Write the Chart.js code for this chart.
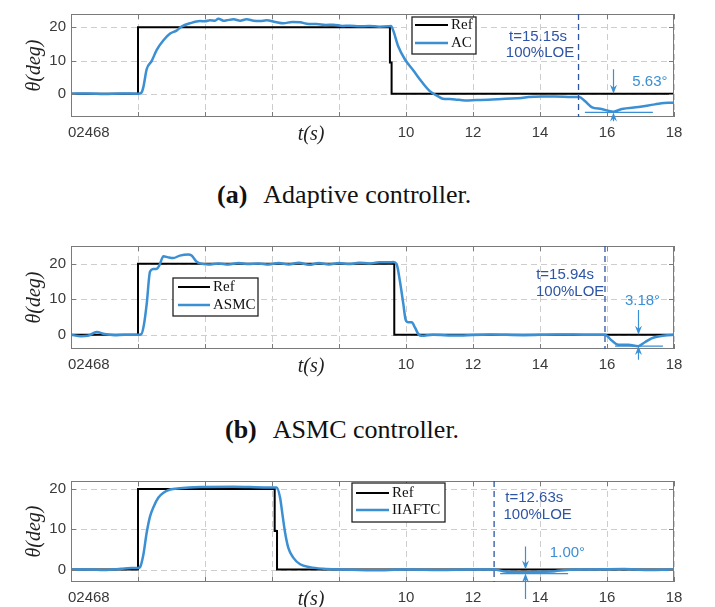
<!DOCTYPE html>
<html><head><meta charset="utf-8">
<script src="https://cdn.jsdelivr.net/npm/chart.js@4.4.1/dist/chart.umd.min.js"></script>
<style>
html,body{margin:0;padding:0;background:#fff;}
#wrap{position:relative;width:715px;height:607px;overflow:hidden;background:#fff;}
canvas{position:absolute;left:0;}
.cap{position:absolute;font-family:'Liberation Serif','Times New Roman',serif;font-size:26px;color:#111;white-space:nowrap;line-height:30px;}
.cap b{margin-right:16px;}
</style></head><body>
<div id="wrap">
<canvas id="ca" width="715" height="150" style="top:0"></canvas>
<div class="cap" style="left:217px;top:180px"><b>(a)</b>Adaptive controller.</div>
<canvas id="cb" width="715" height="150" style="top:232px"></canvas>
<div class="cap" style="left:225px;top:415px"><b>(b)</b>ASMC controller.</div>
<canvas id="cc" width="715" height="140" style="top:467px"></canvas>
</div>
<script>
// ---------------- data ----------------
const xTicks = [0,2,4,6,8,10,12,14,16,18];
const yTicks = [0,10,20];
const crammedLabel = '02468';

// (a) Adaptive controller
const tRefA = [0,2,2,9.52,9.52,9.57,9.57,18];
const refA  = [0,0,20,20,9.4,9.4,0,0];
const tA = [0,0.5,1,1.5,2.0,2.1,2.16,2.26,2.41,2.56,2.76,2.96,3.15,3.3,3.55,3.85,4.0,4.15,4.3,4.4,4.55,4.65,4.85,5.05,5.24,5.45,5.64,5.84,6.1,6.34,6.6,6.84,7.1,7.33,7.6,7.83,8.1,8.33,8.6,8.9,9.2,9.47,9.55,9.62,9.77,9.97,10.22,10.47,10.72,10.96,11.1,11.3,11.46,11.76,12.1,12.46,12.96,13.45,13.65,14.05,14.45,14.95,15.17,15.34,15.54,15.84,16.19,16.44,16.94,17.43,17.83,18];
const acA = [0,0.1,-0.1,0.1,0,0.3,2.0,7.4,9.9,13.2,16.1,18.1,19.0,20.2,21.2,21.9,21.8,22.1,22.0,22.6,22.0,22.1,22.4,22.0,22.4,22.0,21.9,22.1,21.6,21.2,21.6,21.5,21.0,21.0,20.7,20.8,20.4,20.5,20.3,20.4,20.2,20.3,20.4,19.0,14.2,10.3,7.0,3.6,0.7,-0.8,-1.5,-1.6,-1.7,-2.0,-1.9,-1.8,-1.5,-1.3,-1.0,-0.8,-0.8,-1.0,-1.0,-2.2,-4.0,-4.6,-5.4,-4.6,-4.0,-3.2,-2.7,-2.7];
const faultA = 15.15;
const devA = 5.63;

// (b) ASMC controller
const tRefB = [0,2,2,9.65,9.65,18];
const refB  = [0,0,20,20,0,0];
const tB = [0,0.3,0.5,0.77,1.0,1.3,1.6,2.0,2.1,2.18,2.26,2.36,2.46,2.56,2.64,2.76,2.9,3.05,3.25,3.5,3.6,3.75,3.85,4.1,4.4,4.7,5.0,5.3,5.6,5.9,6.2,6.5,6.8,7.1,7.4,7.7,8.0,8.3,8.6,8.9,9.2,9.5,9.62,9.72,9.82,9.92,9.99,10.07,10.17,10.27,10.37,10.47,10.8,11.5,12.5,13.5,14.5,15.5,15.94,16.14,16.34,16.64,16.93,17.13,17.33,17.53,17.8,18];
const asmcB = [0,-0.4,-0.3,0.8,0.2,-0.1,0,0,0.2,3.0,8.7,17.8,18.5,18.6,19.6,22.1,21.8,21.6,22.3,22.6,22.3,20.6,20.1,19.8,20.1,19.8,20.2,19.9,20.1,19.8,20.2,19.8,20.3,19.7,20.2,19.8,20.2,19.9,20.3,20.1,20.4,20.4,20.5,19.9,15.0,8.7,4.2,3.5,3.5,2.0,0.2,-0.3,0,-0.2,0.1,-0.1,0.1,0,0,-1.6,-2.8,-2.8,-3.2,-2.1,-1.0,-0.5,-0.1,0];
const faultB = 15.94;
const devB = 3.18;

// (c) IIAFTC
const tRefC = [0,2,2,6.08,6.08,6.15,6.15,18];
const refC  = [0,0,20,20,9.6,9.6,0,0];
const tC = [0,0.5,1.0,1.5,1.8,2.0,2.06,2.16,2.26,2.36,2.46,2.61,2.76,2.96,3.25,3.85,4.84,5.84,6.14,6.24,6.32,6.39,6.49,6.64,6.84,7.13,7.53,8.03,9,10,11,12,12.63,12.9,13.2,13.5,13.9,14.45,14.8,15.5,16.5,17.2,18];
const iiC = [0,0,-0.1,0.2,0.4,0.4,0.6,3.7,9.2,13.2,15.5,17.9,19.1,19.9,20.2,20.5,20.6,20.4,20.4,17.9,13.2,9.2,5.3,2.9,1.3,0.6,0.2,0,-0.2,0,-0.1,0,0,-0.4,-0.6,-0.7,-0.6,-0.4,-0.1,0,0.1,-0.1,0];
const faultC = 12.63;
const devC = 1.00;

// ---------------- styles ----------------
const BLUE = '#3b8fd3';
const DARKBLUE = '#2e54a6';
const SANS = '"Liberation Sans", Arial, Helvetica, sans-serif';
const SERIF = '"Liberation Serif", "Times New Roman", serif';
const TICKCOL = '#3a3a3a';

function pts(t, v){ return t.map((x,i)=>({x:x, y:v[i]})); }

function arrowHead(ctx, x, tipY, dir){ // dir = +1 pointing down, -1 pointing up
  ctx.beginPath();
  ctx.moveTo(x, tipY);
  ctx.lineTo(x-3.5, tipY - dir*9);
  ctx.lineTo(x, tipY - dir*6);
  ctx.lineTo(x+3.5, tipY - dir*9);
  ctx.closePath();
  ctx.fill();
}

const deco = {
  id: 'deco',
  beforeDatasetsDraw(chart){
    const {ctx, chartArea:a, scales:{x, y}} = chart;
    ctx.save();
    ctx.strokeStyle = '#cdcdcd'; ctx.lineWidth = 1; ctx.setLineDash([6,4]);
    ctx.beginPath();
    x.ticks.forEach(tk=>{
      const px = Math.round(x.getPixelForValue(tk.value))+0.5;
      ctx.moveTo(px, a.top); ctx.lineTo(px, a.bottom);
    });
    y.ticks.forEach(tk=>{
      const py = Math.round(y.getPixelForValue(tk.value))+0.5;
      ctx.moveTo(a.left, py); ctx.lineTo(a.right, py);
    });
    ctx.stroke();
    ctx.restore();
  },
  afterDraw(chart, args, o){
    const {ctx, chartArea:a, scales:{x, y}} = chart;
    ctx.save();
    // box
    ctx.strokeStyle = '#7a7a7a'; ctx.lineWidth = 1; ctx.setLineDash([]);
    ctx.strokeRect(Math.round(a.left)+0.5, Math.round(a.top)+0.5, Math.round(a.right-a.left)-1, Math.round(a.bottom-a.top)-1);
    // inward tick marks
    ctx.beginPath();
    x.ticks.forEach(tk=>{
      const px = Math.round(x.getPixelForValue(tk.value))+0.5;
      ctx.moveTo(px, a.bottom); ctx.lineTo(px, a.bottom-5);
      ctx.moveTo(px, a.top); ctx.lineTo(px, a.top+5);
    });
    y.ticks.forEach(tk=>{
      const py = Math.round(y.getPixelForValue(tk.value))+0.5;
      ctx.moveTo(a.left, py); ctx.lineTo(a.left+5, py);
      ctx.moveTo(a.right, py); ctx.lineTo(a.right-5, py);
    });
    ctx.stroke();

    // crammed tick labels and x title
    const labY = x.top + 7 + 9;
    ctx.fillStyle = TICKCOL; ctx.font = '15px ' + SANS;
    ctx.textAlign = 'left'; ctx.textBaseline = 'middle';
    ctx.fillText(crammedLabel, a.left - 3, labY);
    ctx.font = 'italic 20px ' + SERIF; ctx.fillStyle = '#222';
    ctx.textAlign = 'center';
    ctx.fillText('t(s)', a.left + (a.right-a.left)*0.398, labY + 2);

    // fault line
    const fx = x.getPixelForValue(o.fault);
    ctx.strokeStyle = DARKBLUE; ctx.lineWidth = 1.3; ctx.setLineDash([6,4]);
    ctx.beginPath(); ctx.moveTo(fx, a.top); ctx.lineTo(fx, a.bottom); ctx.stroke();
    ctx.setLineDash([]);
    ctx.fillStyle = DARKBLUE; ctx.font = '15px ' + SANS; ctx.textAlign = 'center';
    ctx.fillText('t=' + o.fault.toFixed(2) + 's', x.getPixelForValue(o.ftx[0]), y.getPixelForValue(o.fty[0]));
    ctx.fillText('100%LOE', x.getPixelForValue(o.ftx[1]), y.getPixelForValue(o.fty[1]));

    // deviation annotation
    const ax = Math.round(x.getPixelForValue(o.arrowT)) + 0.5;
    const y0 = y.getPixelForValue(0);
    const yd = y.getPixelForValue(-o.dev);
    ctx.strokeStyle = BLUE; ctx.fillStyle = BLUE; ctx.lineWidth = 1.2;
    ctx.beginPath();
    ctx.moveTo(ax, y.getPixelForValue(o.arrowTop)); ctx.lineTo(ax, y0 - 5);
    ctx.moveTo(ax, y.getPixelForValue(o.arrowBot)); ctx.lineTo(ax, yd + 5);
    ctx.moveTo(x.getPixelForValue(o.hline[0]), yd); ctx.lineTo(x.getPixelForValue(o.hline[1]), yd);
    ctx.stroke();
    arrowHead(ctx, ax, y0, 1);
    arrowHead(ctx, ax, yd, -1);
    ctx.textAlign = 'center';
    ctx.fillText(o.dev.toFixed(2) + '°', x.getPixelForValue(o.devPos[0]), y.getPixelForValue(o.devPos[1]));

    // legend
    const L = o.legend;
    ctx.fillStyle = '#fff';
    ctx.fillRect(L.box[0], L.box[1], L.box[2]-L.box[0], L.box[3]-L.box[1]);
    ctx.strokeStyle = '#222'; ctx.lineWidth = 1.3;
    ctx.strokeRect(L.box[0], L.box[1], L.box[2]-L.box[0], L.box[3]-L.box[1]);
    const ds = chart.data.datasets;
    [1,0].forEach((di, row)=>{
      const ly = L.rows[row];
      ctx.strokeStyle = ds[di].borderColor; ctx.lineWidth = ds[di].borderWidth;
      ctx.beginPath(); ctx.moveTo(L.line[0], ly); ctx.lineTo(L.line[1], ly); ctx.stroke();
      ctx.fillStyle = '#111'; ctx.font = '15px ' + SERIF; ctx.textAlign = 'left'; ctx.textBaseline = 'middle';
      ctx.fillText(ds[di].label, L.text, ly);
    });
    ctx.restore();
  }
};

function makeChart(id, tRef, ref, t, v, name, lay, ann){
  return new Chart(document.getElementById(id), {
    type: 'line',
    data: { datasets: [
      { label: name, data: pts(t, v), borderColor: BLUE, borderWidth: 2.5, pointRadius: 0,
        cubicInterpolationMode: 'monotone', fill: false },
      { label: 'Ref', data: pts(tRef, ref), borderColor: '#000', borderWidth: 2, pointRadius: 0,
        tension: 0, fill: false }
    ]},
    options: {
      responsive: false, animation: false, devicePixelRatio: 1,
      layout: { padding: { left: 0, right: 41, top: lay.top, bottom: 0 } },
      plugins: { legend: { display: false }, tooltip: { enabled: false }, deco: ann },
      scales: {
        x: { type: 'linear', min: 0, max: 18,
          afterBuildTicks: s => { s.ticks = xTicks.map(v=>({value:v})); },
          afterFit: s => { s.height = lay.xh; },
          ticks: { autoSkip: false, maxRotation: 0, padding: 7, color: TICKCOL,
            font: { family: SANS, size: 15 },
            callback: val => (val >= 10 ? String(val) : '') },
          grid: { display: false, drawTicks: false },
          border: { display: false } },
        y: { type: 'linear', min: lay.ymin, max: lay.ymax,
          afterBuildTicks: s => { s.ticks = yTicks.map(v=>({value:v})); },
          afterFit: s => { s.width = 71; },
          ticks: { padding: 5, color: TICKCOL, font: { family: SANS, size: 15 } },
          grid: { display: false, drawTicks: false },
          border: { display: false },
          title: { display: true, text: 'θ(deg)', color: '#222',
            font: { family: SERIF, size: 20, style: 'italic' }, padding: { top: 23, bottom: 0 } } }
      }
    },
    plugins: [deco]
  });
}

makeChart('ca', tRefA, refA, tA, acA, 'AC', { top: 9, xh: 33, ymin: -7, ymax: 24 }, {
  fault: faultA, ftx: [13.94, 14.0], fty: [17.2, 12.3],
  dev: devA, arrowT: 16.17, arrowTop: 7.4, arrowBot: -8.3, hline: [15.34, 17.37], devPos: [17.28, 3.6],
  legend: { box: [412, 17, 476, 54], line: [415, 448], text: 451, rows: [25, 43] }
});
makeChart('cb', tRefB, refB, tB, asmcB, 'ASMC', { top: 10, xh: 33, ymin: -4, ymax: 25 }, {
  fault: faultB, ftx: [14.75, 14.9], fty: [16.9, 12.0],
  dev: devB, arrowT: 16.93, arrowTop: 7.0, arrowBot: -7.0, hline: [16.24, 17.67], devPos: [17.06, 9.6],
  legend: { box: [173, 46, 258, 84], line: [178, 210], text: 213, rows: [55, 73] }
});
makeChart('cc', tRefC, refC, tC, iiC, 'IIAFTC', { top: 9, xh: 25, ymin: -3.1, ymax: 22 }, {
  fault: faultC, ftx: [13.83, 13.93], fty: [17.9, 13.5],
  dev: devC, arrowT: 13.55, arrowTop: 5.7, arrowBot: -7.3, hline: [12.81, 14.84], devPos: [14.82, 4.1],
  legend: { box: [352, 16, 445, 55], line: [356, 389], text: 392, rows: [26, 43] }
});
</script>
</body></html>
